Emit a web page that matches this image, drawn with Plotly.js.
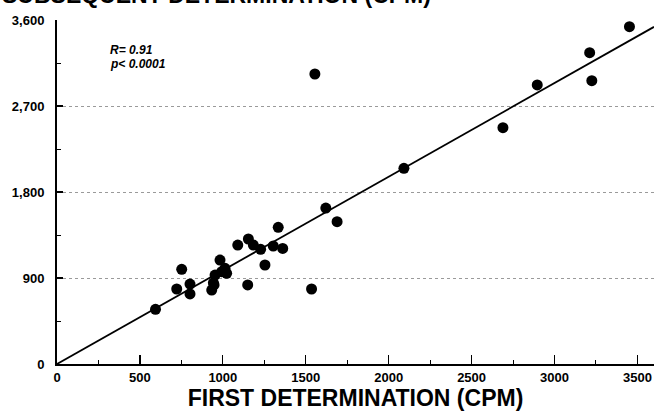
<!DOCTYPE html>
<html>
<head>
<meta charset="utf-8">
<script src="https://cdn.plot.ly/plotly-3.0.1.min.js"></script>
<style>html,body{margin:0;padding:0;background:#fff;}#chart{width:654px;height:414px;}</style>
</head>
<body>
<div id="chart"></div>
<script>
// First determination (CPM)
const firstDetermination = [594, 752, 722, 802, 802, 933, 947, 953, 943, 983, 1013, 993, 1023,
  1090, 1154, 1184, 1228, 1254, 1150, 1334, 1304, 1361, 1535, 1555, 1621, 1689,
  2092, 2689, 2896, 3212, 3225, 3452];
// Subsequent determination (CPM)
const subsequentDetermination = [572, 991, 785, 837, 733, 774, 827, 931, 850, 1088, 1001, 966, 949,
  1245, 1308, 1245, 1200, 1036, 827, 1430, 1235, 1210, 785, 3035, 1632, 1489,
  2048, 2473, 2920, 3258, 2965, 3530];
// regression line
const fitSlope = 0.98;
const fitIntercept = 0;
const fitX = [0, 3600];
const fitY = fitX.map(x => fitIntercept + fitSlope * x);

const xTickVals = [0, 500, 1000, 1500, 2000, 2500, 3000, 3500];
const yTickVals = [0, 900, 1800, 2700, 3600];
const statsText = ["R= 0.91", "p< 0.0001"];

const FONT = "Liberation Sans, Arial, Helvetica, sans-serif";

const traces = [
  {
    x: fitX, y: fitY, mode: "lines", type: "scatter",
    line: {color: "#000", width: 1.8}, hoverinfo: "skip", showlegend: false
  },
  {
    x: firstDetermination, y: subsequentDetermination, mode: "markers", type: "scatter",
    marker: {color: "#000", size: 11, line: {width: 0}}, showlegend: false
  }
];

const layout = {
  width: 654, height: 414,
  margin: {l: 57, r: 0, t: 20, b: 50, pad: 0},
  paper_bgcolor: "#fff", plot_bgcolor: "#fff",
  showlegend: false,
  font: {family: FONT, color: "#000"},
  xaxis: {
    range: [0, 3600], tickvals: xTickVals, ticktext: xTickVals.map(String),
    showline: true, linecolor: "#000", linewidth: 2,
    ticks: "inside", ticklen: 9, tickwidth: 1.3, tickcolor: "#000",
    minor: {dtick: 250, ticks: "inside", ticklen: 4, tickwidth: 1, tickcolor: "#000", showgrid: false},
    showgrid: false, zeroline: false,
    tickfont: {family: FONT, size: 13, weight: "bold", color: "#000"},
    title: {text: "FIRST DETERMINATION (CPM)", font: {family: FONT, size: 23, weight: "bold", color: "#000"}, standoff: 6}
  },
  yaxis: {
    range: [0, 3600], tickvals: yTickVals, ticktext: yTickVals.map(v => v.toLocaleString("en-US")),
    showline: true, linecolor: "#000", linewidth: 2,
    ticks: "inside", ticklen: 6, tickwidth: 1.3, tickcolor: "#000",
    minor: {dtick: 450, ticks: "inside", ticklen: 4, tickwidth: 1, tickcolor: "#000", showgrid: false},
    showgrid: true, gridcolor: "#9a9a9a", gridwidth: 1, griddash: "dot",
    zeroline: false,
    ticklabelstandoff: 8,
    tickfont: {family: FONT, size: 13, weight: "bold", color: "#000"}
  },
  annotations: [
    {
      text: "SUBSEQUENT DETERMINATION (CPM)", xref: "paper", yref: "paper",
      x: -57/597, y: 1.03, xanchor: "left", yanchor: "bottom", showarrow: false,
      font: {family: FONT, size: 23, weight: "bold", color: "#000"}
    },
    {
      text: statsText[0], xref: "paper", yref: "paper",
      x: 51/597, y: 1 - 30/344, xanchor: "left", yanchor: "middle", showarrow: false,
      font: {family: FONT, size: 12, weight: "bold", style: "italic", color: "#000"}
    },
    {
      text: statsText[1], xref: "paper", yref: "paper",
      x: 51/597, y: 1 - 44/344, xanchor: "left", yanchor: "middle", showarrow: false,
      font: {family: FONT, size: 12, weight: "bold", style: "italic", color: "#000"}
    }
  ]
};

Plotly.newPlot("chart", traces, layout, {displayModeBar: false, staticPlot: true});
</script>
</body>
</html>
